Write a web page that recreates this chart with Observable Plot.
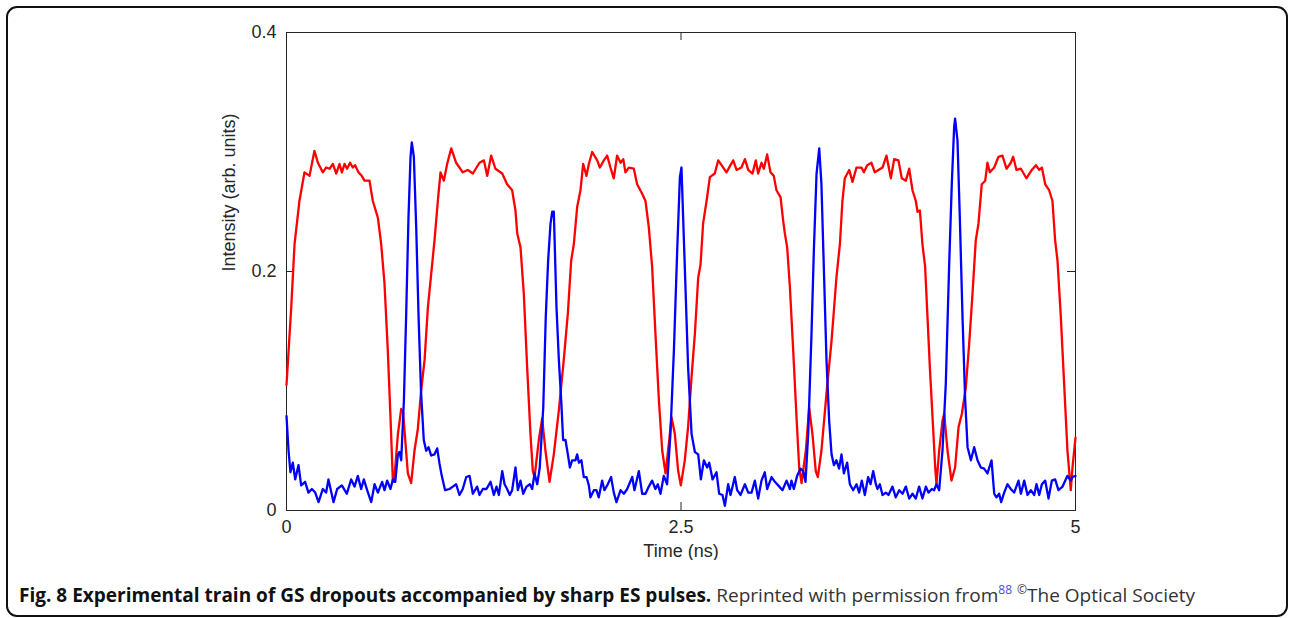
<!DOCTYPE html>
<html>
<head>
<meta charset="utf-8">
<script src="https://cdn.jsdelivr.net/npm/d3@7"></script>
<script src="https://cdn.jsdelivr.net/npm/@observablehq/plot@0.6"></script>
<style>
  html, body { margin: 0; padding: 0; background: #fff; }
  #page { position: relative; width: 1290px; height: 618px; overflow: hidden; background: #fff; }
  #chart { position: absolute; left: 0; top: 0; }
  #border { position: absolute; left: 6px; top: 6px; width: 1282px; height: 611px; box-sizing: border-box;
            border: 2px solid #111; border-radius: 11px; pointer-events: none; }
  #caption { position: absolute; left: 19px; top: 582px; white-space: nowrap; font-family: "Open Sans", "Noto Sans", sans-serif;
             font-size: 19px; line-height: 26px; color: #333; transform-origin: 0 50%; }
  #caption b { color: #111; font-weight: 700; }
  #caption sup { font-size: 12px; vertical-align: 0; position: relative; top: -8px; }
  #caption sup.ref { color: #4b4bf0; }
</style>
</head>
<body>
<div id="page">
  <div id="chart"></div>
  <div id="border"></div>
  <div id="caption"><b>Fig. 8 Experimental train of GS dropouts accompanied by sharp ES pulses.</b> Reprinted with permission from<sup class="ref">88</sup> <sup>©</sup>The Optical Society</div>
</div>
<script>
// ---- Data ----
const xLabel = "Time (ns)";
const yLabel = "Intensity (arb. units)";
const xTicks = [0, 2.5, 5];
const xTickLabels = ["0", "2.5", "5"];
const yTicks = [0, 0.2, 0.4];
const yTickLabels = ["0", "0.2", "0.4"];

// GS (red) trace
const gsTime = [0.000,0.030,0.051,0.082,0.114,0.146,0.177,0.199,0.230,0.251,0.273,0.294,0.315,0.336,0.351,0.368,0.384,0.403,0.420,0.435,0.456,0.477,0.494,0.526,0.547,0.579,0.600,0.621,0.642,0.659,0.674,0.682,0.706,0.727,0.739,0.769,0.790,0.811,0.832,0.853,0.875,0.896,0.917,0.938,0.959,0.976,0.997,1.018,1.044,1.075,1.117,1.149,1.181,1.223,1.251,1.272,1.297,1.324,1.367,1.398,1.430,1.451,1.462,1.483,1.504,1.525,1.546,1.561,1.572,1.599,1.620,1.641,1.667,1.694,1.726,1.757,1.783,1.804,1.821,1.842,1.863,1.880,1.901,1.916,1.937,1.969,1.986,2.011,2.032,2.053,2.074,2.095,2.117,2.134,2.148,2.169,2.201,2.222,2.254,2.275,2.296,2.317,2.338,2.360,2.381,2.402,2.423,2.440,2.461,2.482,2.499,2.524,2.545,2.567,2.588,2.609,2.624,2.640,2.662,2.683,2.714,2.736,2.757,2.788,2.831,2.852,2.883,2.905,2.926,2.953,2.974,2.989,3.010,3.025,3.046,3.067,3.088,3.105,3.131,3.147,3.158,3.173,3.190,3.211,3.232,3.249,3.264,3.291,3.312,3.333,3.354,3.367,3.390,3.422,3.454,3.485,3.507,3.523,3.538,3.566,3.587,3.612,3.644,3.659,3.680,3.707,3.728,3.777,3.802,3.830,3.851,3.878,3.899,3.925,3.946,3.967,3.988,3.999,4.014,4.030,4.047,4.062,4.077,4.094,4.111,4.119,4.136,4.157,4.168,4.189,4.214,4.237,4.259,4.280,4.305,4.326,4.347,4.368,4.385,4.406,4.428,4.442,4.457,4.485,4.512,4.537,4.563,4.590,4.605,4.626,4.654,4.689,4.723,4.749,4.770,4.787,4.808,4.833,4.854,4.871,4.886,4.907,4.928,4.949,4.970,4.981,5.000];
const gsIntensity = [0.105,0.170,0.223,0.259,0.283,0.280,0.301,0.291,0.283,0.287,0.286,0.290,0.282,0.290,0.283,0.290,0.286,0.291,0.287,0.289,0.283,0.280,0.276,0.276,0.259,0.245,0.223,0.190,0.134,0.078,0.025,0.024,0.064,0.085,0.082,0.031,0.023,0.050,0.068,0.100,0.126,0.170,0.198,0.226,0.259,0.283,0.276,0.290,0.303,0.291,0.283,0.285,0.282,0.291,0.293,0.280,0.297,0.286,0.282,0.273,0.268,0.251,0.232,0.220,0.181,0.120,0.064,0.033,0.028,0.059,0.077,0.050,0.024,0.047,0.084,0.126,0.165,0.209,0.223,0.254,0.268,0.290,0.280,0.290,0.300,0.293,0.287,0.293,0.297,0.287,0.278,0.297,0.291,0.294,0.283,0.287,0.286,0.273,0.265,0.259,0.237,0.204,0.148,0.092,0.050,0.031,0.056,0.078,0.064,0.033,0.021,0.042,0.070,0.112,0.148,0.195,0.206,0.240,0.259,0.279,0.282,0.293,0.289,0.283,0.293,0.285,0.287,0.294,0.285,0.282,0.293,0.282,0.291,0.286,0.298,0.283,0.280,0.268,0.262,0.243,0.232,0.220,0.187,0.134,0.078,0.036,0.023,0.050,0.086,0.064,0.033,0.028,0.050,0.098,0.142,0.195,0.223,0.259,0.278,0.285,0.275,0.287,0.287,0.283,0.289,0.291,0.283,0.287,0.297,0.278,0.294,0.293,0.278,0.276,0.286,0.268,0.259,0.250,0.251,0.223,0.204,0.162,0.120,0.078,0.036,0.022,0.050,0.075,0.081,0.050,0.025,0.036,0.070,0.081,0.103,0.139,0.181,0.226,0.240,0.273,0.276,0.291,0.283,0.287,0.296,0.297,0.286,0.291,0.296,0.285,0.286,0.278,0.285,0.289,0.285,0.287,0.273,0.268,0.259,0.226,0.209,0.162,0.106,0.050,0.017,0.036,0.061];

// ES (blue) trace
const esTime = [0.000,0.013,0.025,0.040,0.055,0.076,0.093,0.118,0.139,0.161,0.182,0.203,0.230,0.251,0.266,0.298,0.321,0.351,0.382,0.410,0.431,0.452,0.473,0.490,0.511,0.537,0.558,0.579,0.606,0.621,0.638,0.659,0.674,0.689,0.706,0.716,0.727,0.744,0.758,0.773,0.786,0.794,0.807,0.822,0.837,0.853,0.870,0.885,0.900,0.917,0.938,0.955,0.970,0.984,1.005,1.033,1.054,1.075,1.096,1.117,1.139,1.160,1.181,1.208,1.223,1.244,1.267,1.293,1.314,1.331,1.346,1.367,1.382,1.398,1.415,1.430,1.451,1.466,1.483,1.500,1.521,1.542,1.557,1.572,1.589,1.605,1.627,1.643,1.658,1.673,1.684,1.694,1.711,1.726,1.741,1.753,1.768,1.783,1.796,1.810,1.831,1.842,1.853,1.869,1.884,1.901,1.916,1.926,1.948,1.964,1.979,2.000,2.015,2.036,2.057,2.074,2.091,2.117,2.138,2.159,2.191,2.205,2.233,2.254,2.275,2.296,2.317,2.338,2.353,2.370,2.391,2.412,2.433,2.455,2.476,2.493,2.503,2.524,2.545,2.567,2.588,2.609,2.626,2.645,2.666,2.679,2.700,2.725,2.742,2.763,2.778,2.799,2.814,2.841,2.856,2.877,2.905,2.926,2.947,2.968,2.989,3.010,3.031,3.046,3.074,3.095,3.116,3.143,3.169,3.190,3.200,3.215,3.236,3.257,3.274,3.289,3.306,3.327,3.342,3.359,3.376,3.390,3.405,3.422,3.439,3.454,3.469,3.485,3.502,3.517,3.532,3.553,3.570,3.591,3.612,3.629,3.646,3.665,3.686,3.701,3.718,3.735,3.745,3.760,3.777,3.798,3.815,3.840,3.861,3.883,3.904,3.925,3.946,3.967,3.988,4.009,4.030,4.052,4.068,4.090,4.104,4.119,4.136,4.157,4.178,4.199,4.216,4.231,4.237,4.252,4.267,4.284,4.301,4.316,4.337,4.358,4.379,4.400,4.421,4.442,4.468,4.485,4.499,4.516,4.529,4.548,4.569,4.590,4.611,4.639,4.654,4.675,4.696,4.717,4.738,4.753,4.770,4.787,4.808,4.829,4.850,4.871,4.892,4.918,4.949,4.970,4.981,5.000];
const esIntensity = [0.079,0.050,0.032,0.040,0.026,0.038,0.021,0.024,0.015,0.018,0.015,0.007,0.018,0.015,0.026,0.007,0.018,0.021,0.014,0.026,0.020,0.029,0.018,0.026,0.017,0.007,0.022,0.015,0.024,0.017,0.025,0.018,0.026,0.024,0.047,0.049,0.042,0.092,0.162,0.245,0.296,0.308,0.296,0.237,0.162,0.098,0.059,0.050,0.053,0.046,0.047,0.052,0.039,0.029,0.017,0.018,0.020,0.022,0.013,0.018,0.028,0.029,0.014,0.020,0.013,0.018,0.018,0.024,0.013,0.020,0.013,0.033,0.022,0.018,0.013,0.017,0.036,0.017,0.025,0.014,0.020,0.022,0.018,0.031,0.022,0.036,0.086,0.162,0.209,0.240,0.250,0.250,0.170,0.126,0.092,0.059,0.059,0.047,0.036,0.042,0.042,0.047,0.040,0.042,0.028,0.028,0.021,0.011,0.017,0.017,0.011,0.025,0.017,0.022,0.028,0.015,0.007,0.017,0.014,0.018,0.028,0.017,0.033,0.014,0.014,0.020,0.025,0.018,0.022,0.014,0.029,0.022,0.064,0.134,0.218,0.279,0.287,0.204,0.120,0.064,0.049,0.047,0.026,0.042,0.036,0.040,0.026,0.032,0.014,0.013,0.004,0.022,0.013,0.028,0.017,0.013,0.022,0.015,0.015,0.025,0.010,0.025,0.032,0.018,0.028,0.024,0.021,0.017,0.025,0.018,0.025,0.018,0.029,0.035,0.033,0.024,0.064,0.148,0.218,0.282,0.303,0.273,0.204,0.126,0.075,0.047,0.038,0.042,0.035,0.047,0.031,0.040,0.022,0.017,0.022,0.015,0.025,0.013,0.028,0.022,0.033,0.022,0.018,0.022,0.013,0.015,0.013,0.020,0.011,0.017,0.014,0.020,0.010,0.014,0.010,0.020,0.010,0.020,0.015,0.018,0.017,0.022,0.017,0.050,0.106,0.204,0.273,0.321,0.328,0.310,0.245,0.162,0.092,0.053,0.042,0.053,0.042,0.036,0.035,0.031,0.042,0.014,0.011,0.014,0.007,0.015,0.022,0.018,0.015,0.025,0.014,0.025,0.013,0.017,0.013,0.022,0.013,0.022,0.025,0.010,0.025,0.026,0.017,0.020,0.029,0.025,0.028,0.029];

// ---- Tables built from the arrays ----
const gs = gsTime.map((t, i) => ({t, v: gsIntensity[i]}));
const es = esTime.map((t, i) => ({t, v: esIntensity[i]}));

const W = 1290, H = 560;
const mL = 286, mR = 215, mT = 32, mB = 50;
const plotH = H - mT - mB;
const tickLen = 8;
const axisColor = "#262626";

const chart = Plot.plot({
  width: W,
  height: H,
  marginLeft: mL,
  marginRight: mR,
  marginTop: mT,
  marginBottom: mB,
  style: {background: "transparent", fontFamily: "'Liberation Sans', Arial, Helvetica, sans-serif", fontSize: "18px", color: axisColor},
  x: {domain: [0, 5]},
  y: {domain: [0, 0.4]},
  marks: [
    Plot.frame({stroke: axisColor, strokeWidth: 1}),
    // inward ticks on all four sides (MATLAB box style)
    Plot.tickX(xTicks, {x: d => d, insetTop: plotH - tickLen, stroke: axisColor}),
    Plot.tickX(xTicks, {x: d => d, insetBottom: plotH - tickLen, stroke: axisColor}),
    Plot.tickY(yTicks, {y: d => d, insetRight: (W - mL - mR) - tickLen, stroke: axisColor}),
    Plot.tickY(yTicks, {y: d => d, insetLeft: (W - mL - mR) - tickLen, stroke: axisColor}),
    Plot.axisX({ticks: xTicks, tickSize: 0, tickPadding: 10, tickFormat: (d, i) => xTickLabels[i], label: null, fill: axisColor}),
    Plot.axisY({ticks: yTicks, tickSize: 0, tickPadding: 10, tickFormat: (d, i) => yTickLabels[i], label: null, fill: axisColor}),
    Plot.text([xLabel], {frameAnchor: "bottom", dy: 46, text: d => d, fill: axisColor, fontSize: 18}),
    Plot.text([yLabel], {frameAnchor: "left", dx: -57, rotate: -90, text: d => d, fill: axisColor, fontSize: 18}),
    Plot.line(gs, {x: "t", y: "v", stroke: "#ff0000", strokeWidth: 2.3, strokeLinejoin: "round"}),
    Plot.line(es, {x: "t", y: "v", stroke: "#0000ff", strokeWidth: 2.3, strokeLinejoin: "round"})
  ]
});
document.getElementById("chart").appendChild(chart);

// Fit the caption to the width it spans in the reference
const cap = document.getElementById("caption");
const targetW = 1176;
const w = cap.getBoundingClientRect().width;
cap.style.transform = `scaleX(${targetW / w})`;
</script>
</body>
</html>
